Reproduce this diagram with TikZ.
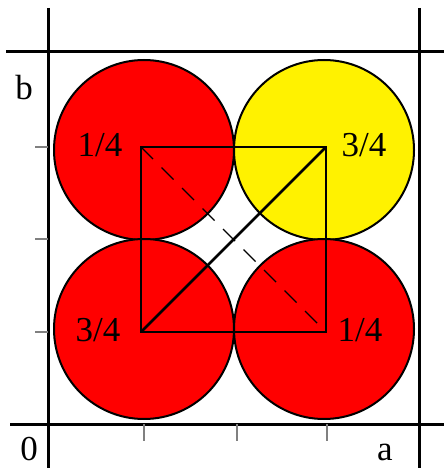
\documentclass[tikz,border=0pt]{standalone}
\usepackage{fontspec}
\setmainfont{Liberation Serif}
\begin{document}
\begin{tikzpicture}[x=1pt,y=-1pt,
  disc/.style={draw=black,line width=2pt},
  axisline/.style={draw=black,line width=3pt},
  tickmark/.style={draw=gray,line width=1.5pt},
  sqline/.style={draw=black,line width=1.4pt},
  lbl/.style={inner sep=0pt,font=\fontsize{35}{40}\selectfont}]
\useasboundingbox (0,0) rectangle (444,468);
% circle centres
\coordinate (c1) at (144,150);
\coordinate (c2) at (324,150);
\coordinate (c3) at (144,329);
\coordinate (c4) at (324,329);
\fill[white] (0,0) rectangle (444,468);
\draw[disc,fill=red] (c1) circle[radius=90pt];
\draw[disc,fill=yellow] (c2) circle[radius=90pt];
\draw[disc,fill=red] (c3) circle[radius=90pt];
\draw[disc,fill=red] (c4) circle[radius=90pt];
% square corners
\coordinate (tl) at (141,147);
\coordinate (tr) at (326,147);
\coordinate (bl) at (141,332);
\coordinate (br) at (326,332);
\draw[sqline] (tl) -- (tr) -- (br) -- (bl) -- cycle;
\draw[black,line width=2.6pt] (bl) -- (tr);
\draw[black,line width=1.3pt,dash pattern=on 17pt off 12pt] (tl) -- (br);
% axes
\coordinate (lt) at (48,8);   \coordinate (lb) at (48,468);
\coordinate (rt) at (419,8);  \coordinate (rb) at (419,468);
\coordinate (tlft) at (6,52); \coordinate (trgt) at (444,52);
\coordinate (blft) at (10,424); \coordinate (brgt) at (444,424);
\draw[axisline] (lt) -- (lb);
\draw[axisline] (rt) -- (rb);
\draw[axisline] (tlft) -- (trgt);
\draw[axisline] (blft) -- (brgt);
% ticks
\foreach \yy/\nm in {147/ta,239/tb,332/tc}{
  \coordinate (\nm1) at (35,\yy); \coordinate (\nm2) at (48,\yy);
  \draw[tickmark] (\nm1) -- (\nm2);}
\foreach \xx/\nm in {144/ua,237/ub,327/uc}{
  \coordinate (\nm1) at (\xx,424); \coordinate (\nm2) at (\xx,441);
  \draw[tickmark] (\nm1) -- (\nm2);}
% labels
\node[lbl] (lb1) at (24,88) {b};
\node[lbl] (l0) at (29,449) {0};
\node[lbl] (la) at (385,452) {a};
\node[lbl] (f1) at (100,145) {1/4};
\node[lbl] (f2) at (364,145) {3/4};
\node[lbl] (f3) at (98,330) {3/4};
\node[lbl] (f4) at (360,330) {1/4};
\end{tikzpicture}
\end{document}
